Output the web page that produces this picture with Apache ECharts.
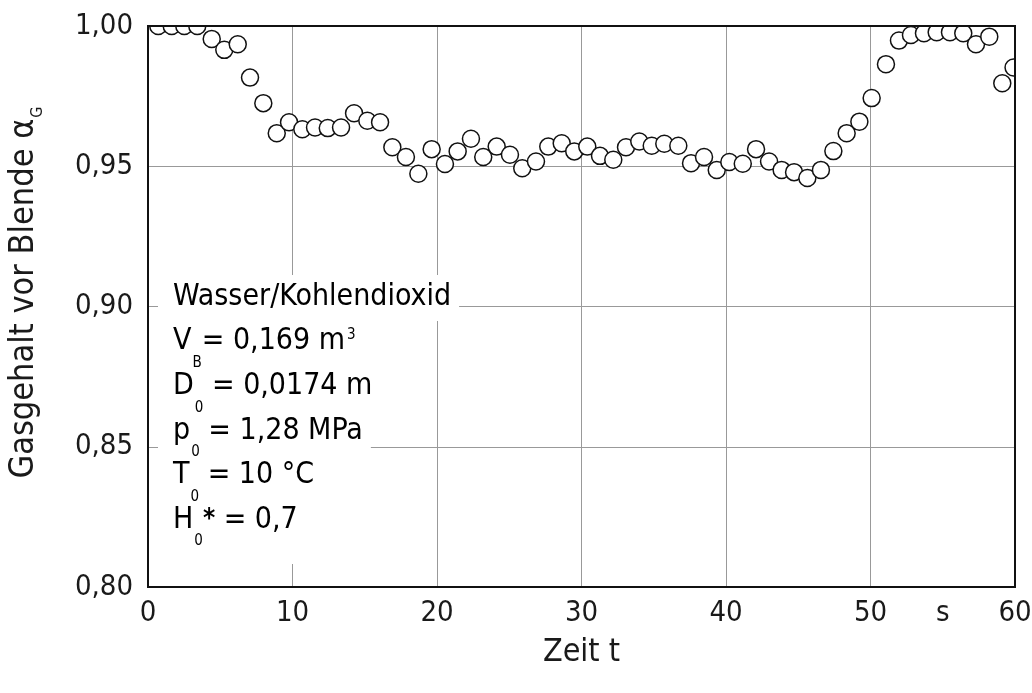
<!DOCTYPE html>
<html>
<head>
<meta charset="utf-8">
<script src="https://cdn.jsdelivr.net/npm/echarts@6/dist/echarts.min.js"></script>
<style>
html,body{margin:0;padding:0;background:#fff;}
#chart{width:1032px;height:693px;}
</style>
</head>
<body>
<div id="chart"></div>
<script>
// time in s
const timeValues = [0.71, 1.64, 2.51, 3.41, 4.41, 5.28, 6.21, 7.06, 7.98, 8.91,
  9.76, 10.68, 11.56, 12.44, 13.36, 14.26, 15.18, 16.06, 16.91, 17.85,
  18.71, 19.63, 20.55, 21.43, 22.35, 23.20, 24.13, 25.05, 25.90, 26.85,
  27.70, 28.63, 29.50, 30.40, 31.28, 32.20, 33.08, 34.00, 34.86, 35.73,
  36.70, 37.58, 38.48, 39.36, 40.23, 41.16, 42.08, 42.98, 43.85, 44.71,
  45.63, 46.57, 47.43, 48.35, 49.23, 50.08, 51.07, 51.97, 52.80, 53.70,
  54.58, 55.50, 56.42, 57.30, 58.22, 59.12, 59.90];
// gas content before orifice
const alphaValues = [1.000, 1.000, 1.000, 1.000, 0.9954, 0.9915, 0.9935, 0.9816, 0.9725, 0.9618,
  0.9657, 0.9632, 0.9638, 0.9636, 0.9638, 0.9689, 0.9662, 0.9657, 0.9568, 0.9533,
  0.9473, 0.9561, 0.9508, 0.9553, 0.9598, 0.9533, 0.9570, 0.9541, 0.9493, 0.9517,
  0.9570, 0.9582, 0.9553, 0.9570, 0.9537, 0.9523, 0.9568, 0.9588, 0.9573, 0.9580,
  0.9573, 0.9511, 0.9533, 0.9487, 0.9515, 0.9509, 0.9561, 0.9517, 0.9487, 0.9479,
  0.9458, 0.9487, 0.9554, 0.9618, 0.9659, 0.9743, 0.9864, 0.9948, 0.9968, 0.9974,
  0.9978, 0.9978, 0.9974, 0.9935, 0.9962, 0.9796, 0.9852];
const xTicks = [0, 10, 20, 30, 40, 50, 60];
const yTicks = [0.80, 0.85, 0.90, 0.95, 1.00];
const xUnitLabel = 's';
const xUnitAt = 55;
const xAxisName = 'Zeit t';
const yAxisName = 'Gasgehalt vor Blende α{sub|G}';
const annotationLines = [
  '{t|Wasser/Kohlendioxid}',
  '{t|V}{sub|B}{t|= 0,169 m}{sup|3}',
  '{t|D}{sub|0}{t| = 0,0174 m}',
  '{t|p}{sub|0}{t| = 1,28 MPa}',
  '{t|T}{sub|0}{t| = 10 °C}',
  '{t|H}{sub|0}{ast|*}{t| = 0,7}'
];

const FONT = "'DejaVu Sans Condensed', 'Liberation Sans Narrow', 'Roboto Condensed', 'Liberation Sans', sans-serif";
const TXT = '#1a1a1a';
const fmt = v => v.toFixed(2).replace('.', ',');

const richStyles = {
  t: {fontSize: 30, fontFamily: FONT, color: TXT, lineHeight: 40, verticalAlign: 'middle'},
  sub: {fontSize: 15, fontFamily: FONT, color: TXT, lineHeight: 40, verticalAlign: 'top', padding: [34, 0, 0, 1]},
  sup: {fontSize: 15, fontFamily: FONT, color: TXT, lineHeight: 40, verticalAlign: 'top', padding: [6, 0, 0, 2]},
  ast: {fontSize: 26, fontFamily: FONT, fontWeight: 'bold', color: TXT, lineHeight: 40, verticalAlign: 'top', padding: [7, 0, 0, 0]}
};

const annotationGraphics = annotationLines.map((line, i) => ({
  type: 'text',
  left: 158,
  top: 275 + i * 44.6,
  z: 20 - i,
  style: {
    text: line,
    rich: richStyles,
    backgroundColor: '#fff',
    padding: [2, 8, i === annotationLines.length - 1 ? 24 : 4, 15]
  }
}));

const chart = echarts.init(document.getElementById('chart'), null, {renderer: 'canvas'});
const option = {
  backgroundColor: '#fff',
  animation: false,
  grid: {left: 148, right: 17, top: 26, bottom: 106, containLabel: false, outerBoundsMode: 'none'},
  xAxis: [{
    type: 'value', min: xTicks[0], max: xTicks[xTicks.length - 1], interval: 10,
    name: xAxisName, nameLocation: 'middle', nameGap: 50,
    nameTextStyle: {fontSize: 32, fontFamily: FONT, color: TXT},
    axisLine: {show: true, lineStyle: {color: '#111', width: 2}},
    axisTick: {show: false},
    axisLabel: {fontSize: 29, fontFamily: FONT, color: TXT, margin: 12, formatter: v => String(v)},
    splitLine: {show: true, lineStyle: {color: '#999', width: 1}}
  }, {
    type: 'value', position: 'bottom', min: xTicks[0], max: xTicks[xTicks.length - 1], interval: 5,
    axisLine: {show: false}, axisTick: {show: false}, splitLine: {show: false},
    axisLabel: {fontSize: 29, fontFamily: FONT, color: TXT, margin: 12,
      formatter: v => (v === xUnitAt ? xUnitLabel : '')}
  }],
  yAxis: {
    type: 'value', min: yTicks[0], max: yTicks[yTicks.length - 1], interval: 0.05,
    name: yAxisName, nameLocation: 'middle', nameGap: 104, nameRotate: 90,
    nameTextStyle: {fontSize: 34, fontFamily: FONT, color: TXT, padding: [0, 0, 0, 28],
      rich: {
        sub: {fontSize: 16, fontFamily: FONT, color: TXT, verticalAlign: 'top', padding: [26, 0, 0, 1], lineHeight: 40}
      }},
    axisLine: {show: true, lineStyle: {color: '#111', width: 2}},
    axisTick: {show: false},
    axisLabel: {fontSize: 29, fontFamily: FONT, color: TXT, margin: 15, formatter: v => fmt(v)},
    splitLine: {show: true, lineStyle: {color: '#999', width: 1}}
  },
  graphic: annotationGraphics,
  series: [{
    type: 'scatter',
    xAxisIndex: 0,
    data: timeValues.map((t, i) => [t, alphaValues[i]]),
    symbol: 'circle',
    symbolSize: 17,
    clip: false,
    itemStyle: {color: '#fff', borderColor: '#111', borderWidth: 1.5, opacity: 1},
    z: 3
  }]
};
chart.setOption(option);

// cover marks overflowing the plot frame, then draw the frame on top
const p0 = chart.convertToPixel({gridIndex: 0}, [xTicks[0], yTicks[yTicks.length - 1]]);
const p1 = chart.convertToPixel({gridIndex: 0}, [xTicks[xTicks.length - 1], yTicks[0]]);
const gx = p0[0], gy = p0[1], gw = p1[0] - p0[0], gh = p1[1] - p0[1];
chart.setOption({
  graphic: annotationGraphics.concat([
    {type: 'rect', z: 50, silent: true, shape: {x: gx, y: 0, width: 1032 - gx, height: gy}, style: {fill: '#fff'}},
    {type: 'rect', z: 50, silent: true, shape: {x: gx + gw, y: 0, width: 1032 - gx - gw, height: gy + gh}, style: {fill: '#fff'}},
    {type: 'rect', z: 60, silent: true, shape: {x: gx, y: gy, width: gw, height: gh}, style: {fill: 'none', stroke: '#111', lineWidth: 2}}
  ])
});
</script>
</body>
</html>
